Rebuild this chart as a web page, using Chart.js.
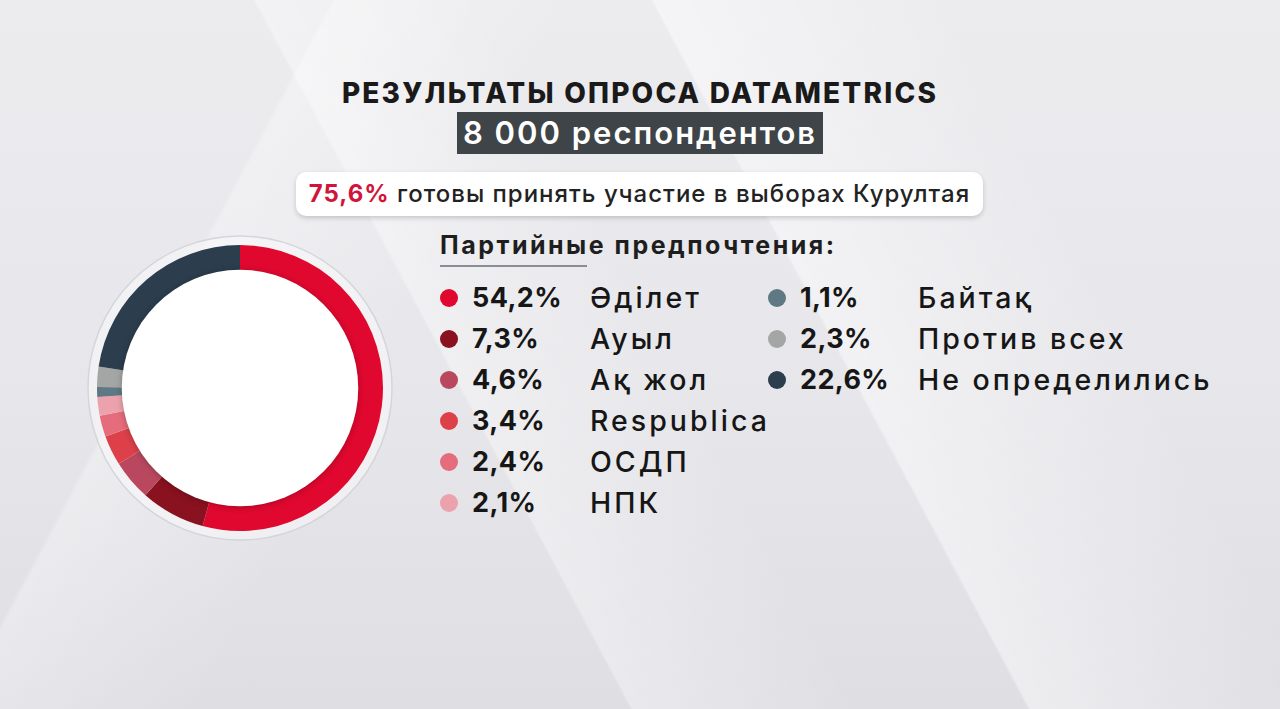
<!DOCTYPE html>
<html>
<head>
<meta charset="utf-8">
<script src="https://cdn.jsdelivr.net/npm/chart.js@4.4.1/dist/chart.umd.min.js"></script>
<style>
  html, body { margin: 0; padding: 0; }
  body {
    width: 1280px; height: 709px; overflow: hidden; position: relative;
    font-family: Inter, "Open Sans", sans-serif;
    background:
      linear-gradient(62deg, rgba(255,255,255,0) 38%, rgba(255,255,255,0.35) 38.2%, rgba(255,255,255,0) 52%),
      linear-gradient(62deg, rgba(255,255,255,0) 62%, rgba(255,255,255,0.45) 62.2%, rgba(255,255,255,0) 80%),
      linear-gradient(118deg, rgba(255,255,255,0) 20%, rgba(255,255,255,0.3) 20.3%, rgba(255,255,255,0) 35%),
      linear-gradient(180deg, #ececef 0%, #e7e7eb 55%, #dedee3 100%);
  }
  #title {
    position: absolute; left: 0; width: 1280px; top: 76px; text-align: center;
    font-size: 28px; font-weight: 800; color: #1a1a1a; letter-spacing: 2.2px;
  }
  #sub {
    position: absolute; left: 457px; top: 112px; width: 366px; height: 42px;
    background: #3e4448; color: #fff; text-align: center;
    font-size: 31px; font-weight: 600; line-height: 42px; letter-spacing: 2px;
  }
  #pill {
    position: absolute; left: 296px; top: 172px; width: 687px; height: 44px;
    background: #fff; border-radius: 10px; box-shadow: 0 2px 5px rgba(0,0,0,0.18);
    text-align: center; font-size: 24px; line-height: 44px; color: #222; font-weight: 500;
    letter-spacing: 1px;
  }
  #pill b { color: #d3143a; font-weight: 700; }
  #head {
    position: absolute; left: 440px; top: 230px; font-size: 25px; font-weight: 700; color: #1e1e1e;
    letter-spacing: 2.5px;
  }
  #rule { position: absolute; left: 440px; top: 265px; width: 147px; height: 2px; background: #8a8e94; }
  .row { position: absolute; height: 40px; line-height: 40px; white-space: nowrap; }
  .dot { position: absolute; width: 18px; height: 18px; border-radius: 50%; top: 11px; left: 0; }
  .pct { position: absolute; left: 32px; font-size: 27px; font-weight: 700; color: #161616; letter-spacing: 0.4px; }
  .lab { position: absolute; left: 150px; font-size: 28.5px; font-weight: 500; color: #161616; letter-spacing: 3px; }
  #wrap { position: absolute; left: 80px; top: 228px; width: 320px; height: 320px; }
</style>
</head>
<body>
<div id="title">РЕЗУЛЬТАТЫ ОПРОСА DATAMETRICS</div>
<div id="sub">8 000 респондентов</div>
<div id="pill"><b>75,6%</b> готовы принять участие в выборах Курултая</div>
<div id="head">Партийные предпочтения:</div>
<div id="rule"></div>
<div id="legend"></div>
<div id="wrap"><canvas id="donut"></canvas></div>

<script>
// data
const parties = ["Әділет", "Ауыл", "Ақ жол", "Respublica", "ОСДП", "НПК", "Байтақ", "Против всех", "Не определились"];
const shares = [54.2, 7.3, 4.6, 3.4, 2.4, 2.1, 1.1, 2.3, 22.6];
const colors = ["#e0082f", "#8a111f", "#b9485f", "#dd4049", "#e46c7c", "#eca2ac", "#5e7983", "#a3a6a5", "#2c3d4e"];

// legend, two columns
const legend = document.getElementById("legend");
parties.forEach((name, i) => {
  const col = i < 6 ? 0 : 1;
  const r = col === 0 ? i : i - 6;
  const row = document.createElement("div");
  row.className = "row";
  row.style.left = (col === 0 ? 440 : 768) + "px";
  row.style.top = (278 + r * 41) + "px";
  row.innerHTML =
    '<span class="dot" style="background:' + colors[i] + '"></span>' +
    '<span class="pct">' + shares[i].toFixed(1).replace(".", ",") + "%</span>" +
    '<span class="lab">' + name + "</span>";
  legend.appendChild(row);
});

// white centre disc + faint halo
const discPlugin = {
  id: "disc",
  beforeDatasetsDraw(chart) {
    const arc = chart.getDatasetMeta(0).data[0];
    const c = chart.ctx;
    c.save();
    c.beginPath();
    c.arc(arc.x, arc.y, arc.outerRadius + 9, 0, Math.PI * 2);
    c.fillStyle = "rgba(250,250,252,0.55)";
    c.fill();
    c.strokeStyle = "rgba(205,208,212,0.8)";
    c.lineWidth = 1.5;
    c.stroke();
    c.restore();
  },
  afterDatasetsDraw(chart) {
    const arc = chart.getDatasetMeta(0).data[0];
    const c = chart.ctx;
    c.save();
    c.beginPath();
    c.arc(arc.x, arc.y, arc.innerRadius + 1, 0, Math.PI * 2);
    c.shadowColor = "rgba(0,0,0,0.25)";
    c.shadowBlur = 6;
    c.shadowOffsetY = 1;
    c.fillStyle = "#ffffff";
    c.fill();
    c.restore();
  },
};

new Chart(document.getElementById("donut"), {
  type: "doughnut",
  data: {
    labels: parties,
    datasets: [
      {
        data: shares,
        backgroundColor: colors,
        borderWidth: 0,
      },
    ],
  },
  options: {
    responsive: true,
    maintainAspectRatio: false,
    animation: false,
    cutout: "82%",
    layout: { padding: 17 },
    plugins: {
      legend: { display: false },
      tooltip: { enabled: false },
    },
  },
  plugins: [discPlugin],
});
</script>
</body>
</html>
